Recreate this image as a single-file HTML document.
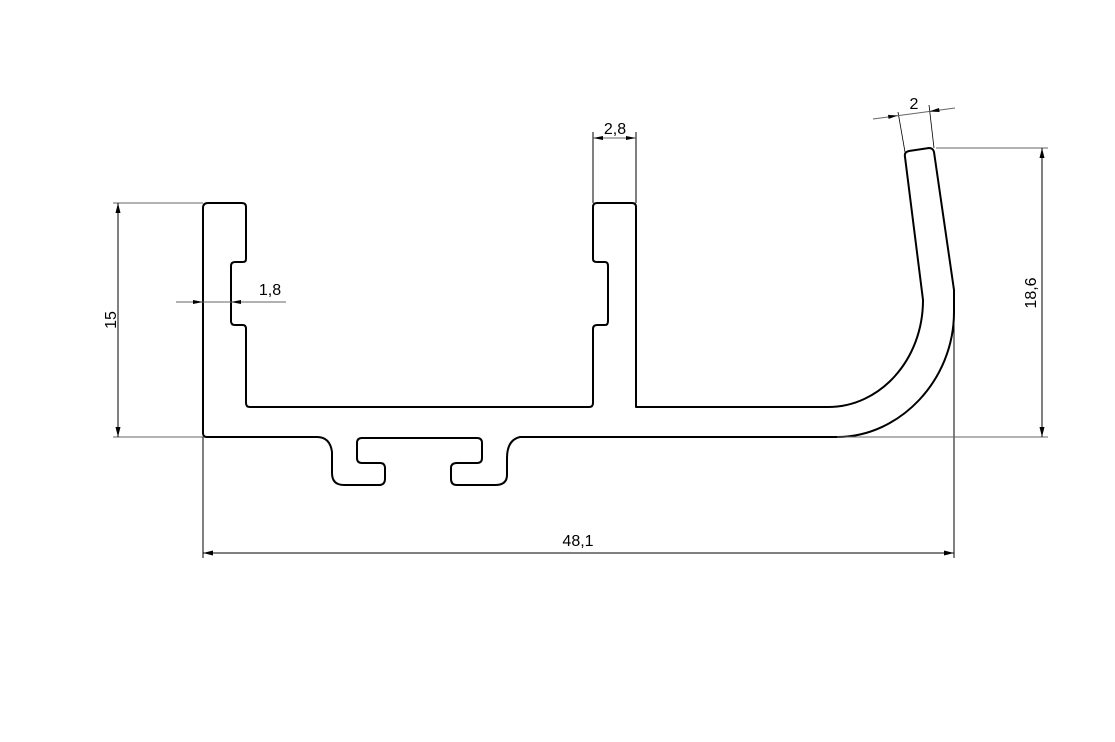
<!DOCTYPE html>
<html><head><meta charset="utf-8"><style>html,body{margin:0;padding:0;background:#fff}svg{display:block}</style></head><body>
<svg width="1115" height="742" viewBox="0 0 1115 742" xmlns="http://www.w3.org/2000/svg" font-family="Liberation Sans, sans-serif">
<g fill="none" stroke="#000" stroke-width="2" stroke-linejoin="round">
<path d="M208,203 L242,203 Q246,203 246,207 L246,259 Q246,262 243,262 L235,262 Q231,262 231,266 L231,321 Q231,325 235,325 L243,325 Q246,325 246,329 L246,403 Q246,407 250,407 L589,407 Q593,407 593,403 L593,329 Q593,325 597,325 L605,325 Q608,325 608,321 L608,266 Q608,262 605,262 L597,262 Q593,262 593,259 L593,207 Q593,203 597,203 L632,203 Q636,203 636,207 L636,407 L828,407 C880,407 923,360 923,300 L905,157 Q904,152 909,151 L929,148 Q933,148 934,152 L954,290 L954,312 C954,380 900,437 837,437 L520,437 Q507,440 507,458 L507,475 Q507,485 495,485 L457,485 Q451,485 451,479 L451,468 Q451,463 457,463 L477,463 Q482,463 482,458 L482,443 Q482,438 477,438 L362,438 Q357,438 357,443 L357,458 Q357,463 362,463 L380,463 Q385,463 385,468 L385,479 Q385,485 379,485 L344,485 Q332,485 332,473 L332,452 Q330,437 317,437 L207,437 Q203,437 203,433 L203,208 Q203,203 208,203 Z"/>
</g>
<g stroke="#000" stroke-width="1" fill="none">
<line x1="113" y1="203" x2="203" y2="203" stroke="#666"/>
<line x1="113" y1="437" x2="203" y2="437" stroke="#666"/>
<line x1="118" y1="203" x2="118" y2="437"/>
<line x1="203" y1="437" x2="203" y2="558"/>
<line x1="954" y1="312" x2="954" y2="558"/>
<line x1="203" y1="553" x2="954" y2="553"/>
<line x1="936" y1="148" x2="1048" y2="148" stroke="#666"/>
<line x1="837" y1="437" x2="1048" y2="437" stroke="#666"/>
<line x1="1042" y1="148" x2="1042" y2="437"/>
<line x1="593" y1="132" x2="593" y2="203"/>
<line x1="636" y1="132" x2="636" y2="203"/>
<line x1="593" y1="138" x2="636" y2="138" stroke="#666"/>
<line x1="176" y1="302" x2="286" y2="302" stroke="#666"/>
<line x1="898" y1="112" x2="905" y2="152" stroke-width="0.8"/>
<line x1="929" y1="105" x2="934" y2="148" stroke-width="0.8"/>
<line x1="873" y1="119" x2="955" y2="108" stroke="#666"/>
</g>
<g fill="#000">
<path d="M118,203 l-2.5,10 h5 z M118,437 l-2.5,-10 h5 z"/>
<path d="M203,553 l10,-2.5 v5 z M954,553 l-10,-2.5 v5 z"/>
<path d="M1042,148 l-2.5,10 h5 z M1042,437 l-2.5,-10 h5 z"/>
<path d="M593,138 l10,-2 v4 z M636,138 l-10,-2 v4 z"/>
<path d="M203,302 l-10,-2 v4 z M231,302 l10,-2 v4 z"/>
<path d="M898,115.5 l-10,-0.6 l0.6,4 z M929,111.5 l10,-3.5 l0.6,4 z"/>
</g>
<g font-size="16" fill="#000" text-anchor="middle">
<text x="615" y="134">2,8</text>
<text x="270" y="295">1,8</text>
<text x="578" y="546">48,1</text>
<text x="914" y="109">2</text>
<text transform="translate(116,320) rotate(-90)">15</text>
<text transform="translate(1036,293) rotate(-90)">18,6</text>
</g>
</svg>
</body></html>
